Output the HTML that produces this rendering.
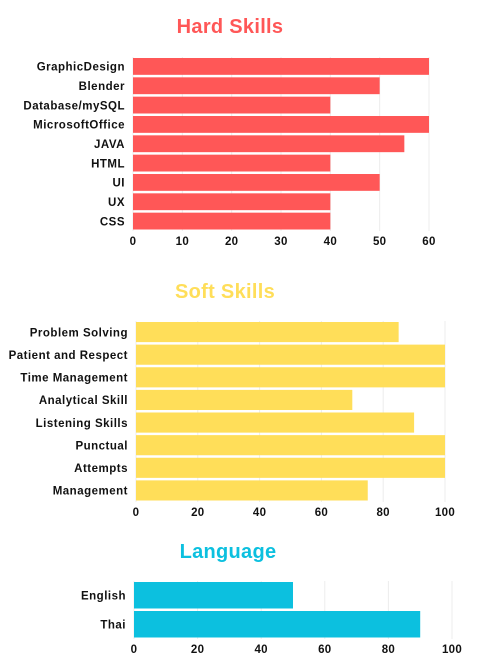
<!DOCTYPE html>
<html><head><meta charset="utf-8"><style>
body{margin:0;background:#fff;width:481px;height:664px;overflow:hidden;font-family:"Liberation Sans",sans-serif}
svg{display:block}
</style></head><body>
<svg id="s" width="481" height="664"></svg>
<script>
const hardCats=["GraphicDesign","Blender","Database/mySQL","MicrosoftOffice","JAVA","HTML","UI","UX","CSS"];
const hardVals=[60,50,40,60,55,40,50,40,40];
const hardTicks=[0,10,20,30,40,50,60];
const softCats=["Problem Solving","Patient and Respect","Time Management","Analytical Skill","Listening Skills","Punctual","Attempts","Management"];
const softVals=[85,100,100,70,90,100,100,75];
const softTicks=[0,20,40,60,80,100];
const langCats=["English","Thai"];
const langVals=[50,90];
const langTicks=[0,20,40,60,80,100];

const NS="http://www.w3.org/2000/svg";
const svg=document.getElementById('s');
function mk(t,a,p){const e=document.createElementNS(NS,t);for(const k in a)e.setAttribute(k,a[k]);(p||svg).appendChild(e);return e;}
function chart(o){
  const g=mk('g',{});
  
  
  const t=mk('text',{x:o.tx,y:o.ty,'text-anchor':'middle','font-size':20,'font-weight':'bold',fill:o.color,'letter-spacing':0.3},g);
  t.textContent=o.title;
  
  
  const max=o.ticks[o.ticks.length-1];
  const xs=v=>o.x0+(o.x1-o.x0)*v/max;
  const n=o.cats.length;const pitch=(o.y1-o.y0)/n;
  o.ticks.forEach(v=>{
    const l=mk('line',{x1:xs(v),x2:xs(v),y1:o.y0,y2:o.y1,stroke:'#ececec','stroke-width':1},g);
    
    
    const tt=mk('text',{x:xs(v),y:o.y1+14,'text-anchor':'middle','font-size':11.5,'font-weight':'bold',fill:'#111','letter-spacing':0.3},g);
    tt.textContent=v;
    
    
  });
  o.cats.forEach((c,i)=>{
    const y=o.y0+i*pitch;
    const r=mk('rect',{x:o.x0,y:y+1,width:xs(o.vals[i])-o.x0,height:pitch-2.5,fill:o.color},g);
    
    
    const lt=mk('text',{x:o.x0-8,y:y+pitch/2+4,'text-anchor':'end','font-size':11.5,'font-weight':'bold',fill:'#111','letter-spacing':0.5},g);
    lt.textContent=c;
    
    
  });
}
chart({name:'hard-skills-chart',title:'Hard Skills',tx:230,ty:33,color:'#ff5757',cats:hardCats,vals:hardVals,ticks:hardTicks,x0:133,x1:429,y0:57,y1:231});
chart({name:'soft-skills-chart',title:'Soft Skills',tx:225,ty:298,color:'#ffde59',cats:softCats,vals:softVals,ticks:softTicks,x0:136,x1:445,y0:321,y1:502});
chart({name:'language-chart',title:'Language',tx:228,ty:558,color:'#0cc0df',cats:langCats,vals:langVals,ticks:langTicks,x0:134,x1:452,y0:581,y1:639});
</script>
</body></html>
